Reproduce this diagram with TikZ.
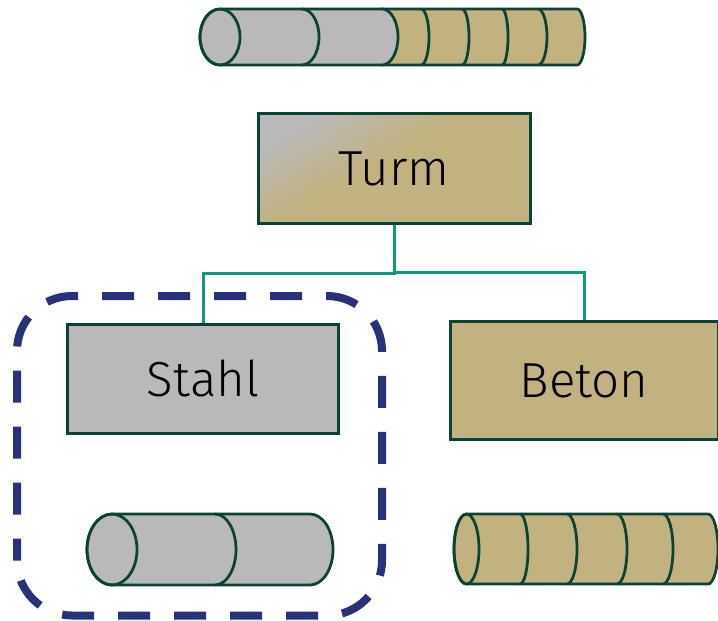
\documentclass[tikz,border=0pt]{standalone}
\usepackage{fontspec}
\setmainfont{Fira Sans Light}
\definecolor{edgegreen}{HTML}{0A4233}
\definecolor{steelgray}{HTML}{B9B9B9}
\definecolor{concretetan}{HTML}{C2B280}
\definecolor{branchteal}{HTML}{0F9A80}
\definecolor{groupnavy}{HTML}{27327A}
\pgfdeclarehorizontalshading{turmfill}{100bp}{color(0bp)=(steelgray); color(25bp)=(steelgray); color(46bp)=(concretetan); color(100bp)=(concretetan)}
\tikzset{
	partbox/.style = {draw = edgegreen, line width = .06cm, font = \fontsize{28}{30}\selectfont, text = black, text height = .7cm, text depth = 0cm},
	cylline/.style = {draw = edgegreen, line width = .055cm},
	branch/.style = {draw = branchteal, line width = .06cm},
	groupline/.style = {draw = groupnavy, line width = .16cm, dash pattern = on .64cm off .48cm, dash phase = .2cm, rounded corners = 1.1cm}
}

\begin{document}
\begin{tikzpicture}
	\useasboundingbox (0,0) rectangle (14.36,12.4);
	% top cylinder
	\filldraw [cylline, fill = concretetan] (7.64,12.22) -- (11.54,12.22) arc [start angle = 90, end angle = -90, x radius = .16, y radius = .56] -- (7.64,11.1) -- cycle;
	\filldraw [cylline, fill = steelgray] (4.4,12.22) -- (7.64,12.22) arc [start angle = 90, end angle = -90, x radius = .32, y radius = .56] -- (4.4,11.1) arc [start angle = 270, end angle = 90, x radius = .4, y radius = .56];
	\draw [cylline] (4.4,11.66) ellipse [x radius = .4, y radius = .56];
	\draw [cylline] (6.04,12.22) arc [start angle = 90, end angle = -90, x radius = .34, y radius = .56];
	\draw [cylline] (8.42,12.22) arc [start angle = 90, end angle = -90, x radius = .16, y radius = .56];
	\draw [cylline] (9.24,12.22) arc [start angle = 90, end angle = -90, x radius = .14, y radius = .56];
	\draw [cylline] (10.04,12.22) arc [start angle = 90, end angle = -90, x radius = .12, y radius = .56];
	\draw [cylline] (10.76,12.22) arc [start angle = 90, end angle = -90, x radius = .18, y radius = .56];
	% boxes
	\node [partbox, shading = turmfill, shading angle = -60, minimum width = 5.44cm, minimum height = 2.2cm] (turm) at (7.88,9.04) {Turm};
	\node [partbox, fill = steelgray, minimum width = 5.42cm, minimum height = 2.18cm] (stahl) at (4.06,4.83) {Stahl};
	\node [partbox, fill = concretetan, minimum width = 5.36cm, minimum height = 2.36cm] (beton) at (11.68,4.8) {Beton};
	% connectors
	\coordinate (joinleft) at (7.88,6.94);
	\coordinate (joinright) at (7.88,6.96);
	\draw [branch] (turm.south) -- (joinleft) -| (stahl.north);
	\draw [branch] (joinright) -| (beton.north);
	% lower left cylinder
	\filldraw [cylline, fill = steelgray] (2.24,2.12) -- (6.2,2.12) arc [start angle = 90, end angle = -90, x radius = .46, y radius = .71] -- (2.24,.7) arc [start angle = 270, end angle = 90, x radius = .5, y radius = .71];
	\draw [cylline] (2.24,1.41) ellipse [x radius = .5, y radius = .71];
	\draw [cylline] (4.3,2.12) arc [start angle = 90, end angle = -90, x radius = .42, y radius = .71];
	% lower right cylinder
	\filldraw [cylline, fill = concretetan] (9.33,2.12) -- (14.16,2.12) arc [start angle = 90, end angle = -90, x radius = .2, y radius = .7] -- (9.33,.72) arc [start angle = 270, end angle = 90, x radius = .25, y radius = .7];
	\draw [cylline] (9.33,1.42) ellipse [x radius = .25, y radius = .7];
	\draw [cylline] (10.4,2.12) arc [start angle = 90, end angle = -90, x radius = .16, y radius = .7];
	\draw [cylline] (11.34,2.12) arc [start angle = 90, end angle = -90, x radius = .2, y radius = .7];
	\draw [cylline] (12.34,2.12) arc [start angle = 90, end angle = -90, x radius = .2, y radius = .7];
	\draw [cylline] (13.26,2.12) arc [start angle = 90, end angle = -90, x radius = .2, y radius = .7];
	% group frame
	\draw [groupline] (.34,.09) rectangle (7.64,6.48);
\end{tikzpicture}
\end{document}
